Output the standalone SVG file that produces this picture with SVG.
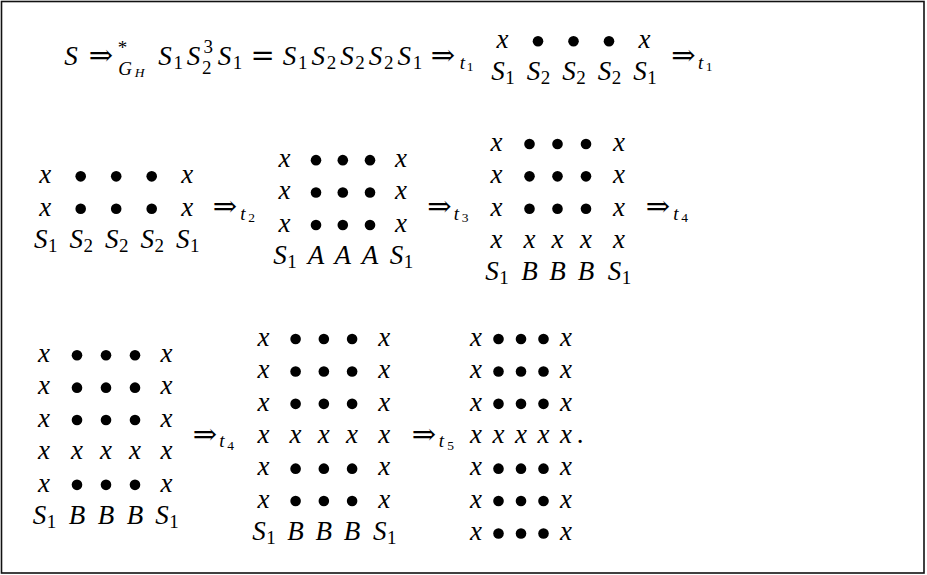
<svg xmlns="http://www.w3.org/2000/svg" width="927" height="575" viewBox="0 0 927 575">
<style>
text{text-anchor:middle;fill:#000;font-family:'Liberation Serif','Times New Roman',serif}
.v{font-style:italic;font-size:27px}
.d{font-size:19px}
.vs{font-style:italic;font-size:19px}
.vss{font-style:italic;font-size:13.5px}
.dss{font-size:13.5px}
.op{font-family:'DejaVu Serif','Liberation Serif',serif;font-size:29px}
.p{font-size:27px}
circle{fill:#000}
</style>
<rect x="0" y="0" width="927" height="575" fill="#fff"/>
<rect x="1.5" y="1.5" width="922.5" height="571.5" fill="none" stroke="#111" stroke-width="1.6"/>

<g id="line1">
<text class="v" x="71" y="64.5">S</text>
<text class="op" x="101" y="65">⇒</text>
<text class="d" x="122.5" y="53.5">*</text>
<text class="vs" x="125" y="75">G</text>
<text class="vss" x="139.5" y="77">H</text>
<text class="v" x="165" y="64.5">S</text><text class="d" x="178.2" y="68.5">1</text>
<text class="v" x="193.6" y="64.5">S</text><text class="d" x="206.8" y="73.5">2</text><text class="d" x="208.3" y="52.5">3</text>
<text class="v" x="224.4" y="64.5">S</text><text class="d" x="237.6" y="68.5">1</text>
<text class="op" x="262.7" y="65">=</text>
<text class="v" x="289.5" y="64.5">S</text><text class="d" x="302.7" y="68.5">1</text>
<text class="v" x="318.2" y="64.5">S</text><text class="d" x="331.4" y="68.5">2</text>
<text class="v" x="346.9" y="64.5">S</text><text class="d" x="360.1" y="68.5">2</text>
<text class="v" x="375.5" y="64.5">S</text><text class="d" x="388.7" y="68.5">2</text>
<text class="v" x="404.2" y="64.5">S</text><text class="d" x="417.4" y="68.5">1</text>
<text class="op" x="443" y="65">⇒</text>
<text class="vs" x="462.3" y="68.5">t</text><text class="dss" x="470" y="71">1</text>
</g>

<g id="array1">
<text class="v" x="502.5" y="48.05">x</text>
<circle cx="538" cy="41.3" r="5.3"/><circle cx="573.5" cy="41.3" r="5.3"/><circle cx="609" cy="41.3" r="5.3"/>
<text class="v" x="644.5" y="48.05">x</text>
<text class="v" x="498" y="80.45">S</text><text class="d" x="510" y="84.45">1</text>
<text class="v" x="533.5" y="80.45">S</text><text class="d" x="545.5" y="84.45">2</text>
<text class="v" x="569" y="80.45">S</text><text class="d" x="581" y="84.45">2</text>
<text class="v" x="604.5" y="80.45">S</text><text class="d" x="616.5" y="84.45">2</text>
<text class="v" x="640" y="80.45">S</text><text class="d" x="652" y="84.45">1</text>
</g>

<g id="step1">
<text class="op" x="683.3" y="65">⇒</text>
<text class="vs" x="700.6" y="68.5">t</text><text class="dss" x="709" y="71">1</text>
</g>

<g id="array2">
<text class="v" x="45.2" y="183.1">x</text>
<circle cx="80.7" cy="176.35" r="5.3"/><circle cx="116.2" cy="176.35" r="5.3"/><circle cx="151.7" cy="176.35" r="5.3"/>
<text class="v" x="187.2" y="183.1">x</text>
<text class="v" x="45.2" y="215.5">x</text>
<circle cx="80.7" cy="208.75" r="5.3"/><circle cx="116.2" cy="208.75" r="5.3"/><circle cx="151.7" cy="208.75" r="5.3"/>
<text class="v" x="187.2" y="215.5">x</text>
<text class="v" x="40.7" y="247.9">S</text><text class="d" x="52.7" y="251.9">1</text>
<text class="v" x="76.2" y="247.9">S</text><text class="d" x="88.2" y="251.9">2</text>
<text class="v" x="111.7" y="247.9">S</text><text class="d" x="123.7" y="251.9">2</text>
<text class="v" x="147.2" y="247.9">S</text><text class="d" x="159.2" y="251.9">2</text>
<text class="v" x="182.7" y="247.9">S</text><text class="d" x="194.7" y="251.9">1</text>
</g>

<g id="step2">
<text class="op" x="225" y="216.25">⇒</text>
<text class="vs" x="243" y="219.75">t</text><text class="dss" x="251.5" y="222">2</text>
</g>

<g id="array3">
<text class="v" x="284.5" y="166.9">x</text>
<circle cx="316" cy="160.15" r="5.3"/><circle cx="342.8" cy="160.15" r="5.3"/><circle cx="370" cy="160.15" r="5.3"/>
<text class="v" x="401" y="166.9">x</text>
<text class="v" x="284.5" y="199.3">x</text>
<circle cx="316" cy="192.55" r="5.3"/><circle cx="342.8" cy="192.55" r="5.3"/><circle cx="370" cy="192.55" r="5.3"/>
<text class="v" x="401" y="199.3">x</text>
<text class="v" x="284.5" y="231.7">x</text>
<circle cx="316" cy="224.95" r="5.3"/><circle cx="342.8" cy="224.95" r="5.3"/><circle cx="370" cy="224.95" r="5.3"/>
<text class="v" x="401" y="231.7">x</text>
<text class="v" x="280" y="264.1">S</text><text class="d" x="292" y="268.1">1</text>
<text class="v" x="316" y="264.1">A</text>
<text class="v" x="342.8" y="264.1">A</text>
<text class="v" x="370" y="264.1">A</text>
<text class="v" x="396.5" y="264.1">S</text><text class="d" x="408.5" y="268.1">1</text>
</g>

<g id="step3">
<text class="op" x="439.5" y="216.25">⇒</text>
<text class="vs" x="456.5" y="219.75">t</text><text class="dss" x="465" y="222">3</text>
</g>

<g id="array4">
<text class="v" x="496.5" y="150.7">x</text>
<circle cx="529.5" cy="143.95" r="5.3"/><circle cx="557.5" cy="143.95" r="5.3"/><circle cx="586" cy="143.95" r="5.3"/>
<text class="v" x="619" y="150.7">x</text>
<text class="v" x="496.5" y="183.1">x</text>
<circle cx="529.5" cy="176.35" r="5.3"/><circle cx="557.5" cy="176.35" r="5.3"/><circle cx="586" cy="176.35" r="5.3"/>
<text class="v" x="619" y="183.1">x</text>
<text class="v" x="496.5" y="215.5">x</text>
<circle cx="529.5" cy="208.75" r="5.3"/><circle cx="557.5" cy="208.75" r="5.3"/><circle cx="586" cy="208.75" r="5.3"/>
<text class="v" x="619" y="215.5">x</text>
<text class="v" x="496.5" y="247.9">x</text>
<text class="v" x="529.5" y="247.9">x</text>
<text class="v" x="557.5" y="247.9">x</text>
<text class="v" x="586" y="247.9">x</text>
<text class="v" x="619" y="247.9">x</text>
<text class="v" x="492" y="280.3">S</text><text class="d" x="504" y="284.3">1</text>
<text class="v" x="529.5" y="280.3">B</text>
<text class="v" x="557.5" y="280.3">B</text>
<text class="v" x="586" y="280.3">B</text>
<text class="v" x="614.5" y="280.3">S</text><text class="d" x="626.5" y="284.3">1</text>
</g>

<g id="step4">
<text class="op" x="658" y="216.25">⇒</text>
<text class="vs" x="676" y="219.75">t</text><text class="dss" x="684.5" y="222">4</text>
</g>

<g id="array5">
<text class="v" x="44" y="362">x</text>
<circle cx="77" cy="355.25" r="5.3"/><circle cx="106" cy="355.25" r="5.3"/><circle cx="135" cy="355.25" r="5.3"/>
<text class="v" x="166.5" y="362">x</text>
<text class="v" x="44" y="394.4">x</text>
<circle cx="77" cy="387.65" r="5.3"/><circle cx="106" cy="387.65" r="5.3"/><circle cx="135" cy="387.65" r="5.3"/>
<text class="v" x="166.5" y="394.4">x</text>
<text class="v" x="44" y="426.8">x</text>
<circle cx="77" cy="420.05" r="5.3"/><circle cx="106" cy="420.05" r="5.3"/><circle cx="135" cy="420.05" r="5.3"/>
<text class="v" x="166.5" y="426.8">x</text>
<text class="v" x="44" y="459.2">x</text>
<text class="v" x="77" y="459.2">x</text>
<text class="v" x="106" y="459.2">x</text>
<text class="v" x="135" y="459.2">x</text>
<text class="v" x="166.5" y="459.2">x</text>
<text class="v" x="44" y="491.6">x</text>
<circle cx="77" cy="484.85" r="5.3"/><circle cx="106" cy="484.85" r="5.3"/><circle cx="135" cy="484.85" r="5.3"/>
<text class="v" x="166.5" y="491.6">x</text>
<text class="v" x="39.5" y="524">S</text><text class="d" x="51.5" y="528">1</text>
<text class="v" x="77" y="524">B</text>
<text class="v" x="106" y="524">B</text>
<text class="v" x="135" y="524">B</text>
<text class="v" x="162" y="524">S</text><text class="d" x="174" y="528">1</text>
</g>

<g id="step5">
<text class="op" x="205" y="443.75">⇒</text>
<text class="vs" x="222" y="447.25">t</text><text class="dss" x="230.5" y="449.5">4</text>
</g>

<g id="array6">
<text class="v" x="263.5" y="345.8">x</text>
<circle cx="295.6" cy="339.05" r="5.3"/><circle cx="323.85" cy="339.05" r="5.3"/><circle cx="352.1" cy="339.05" r="5.3"/>
<text class="v" x="384.2" y="345.8">x</text>
<text class="v" x="263.5" y="378.2">x</text>
<circle cx="295.6" cy="371.45" r="5.3"/><circle cx="323.85" cy="371.45" r="5.3"/><circle cx="352.1" cy="371.45" r="5.3"/>
<text class="v" x="384.2" y="378.2">x</text>
<text class="v" x="263.5" y="410.6">x</text>
<circle cx="295.6" cy="403.85" r="5.3"/><circle cx="323.85" cy="403.85" r="5.3"/><circle cx="352.1" cy="403.85" r="5.3"/>
<text class="v" x="384.2" y="410.6">x</text>
<text class="v" x="263.5" y="443">x</text>
<text class="v" x="295.6" y="443">x</text>
<text class="v" x="323.85" y="443">x</text>
<text class="v" x="352.1" y="443">x</text>
<text class="v" x="384.2" y="443">x</text>
<text class="v" x="263.5" y="475.4">x</text>
<circle cx="295.6" cy="468.65" r="5.3"/><circle cx="323.85" cy="468.65" r="5.3"/><circle cx="352.1" cy="468.65" r="5.3"/>
<text class="v" x="384.2" y="475.4">x</text>
<text class="v" x="263.5" y="507.8">x</text>
<circle cx="295.6" cy="501.05" r="5.3"/><circle cx="323.85" cy="501.05" r="5.3"/><circle cx="352.1" cy="501.05" r="5.3"/>
<text class="v" x="384.2" y="507.8">x</text>
<text class="v" x="259" y="540.2">S</text><text class="d" x="271" y="544.2">1</text>
<text class="v" x="295.6" y="540.2">B</text>
<text class="v" x="323.85" y="540.2">B</text>
<text class="v" x="352.1" y="540.2">B</text>
<text class="v" x="379.7" y="540.2">S</text><text class="d" x="391.7" y="544.2">1</text>
</g>

<g id="step6">
<text class="op" x="424" y="443.75">⇒</text>
<text class="vs" x="441.5" y="447.25">t</text><text class="dss" x="450.5" y="449.5">5</text>
</g>

<g id="array7">
<text class="v" x="476" y="345.8">x</text>
<circle cx="498.5" cy="339.05" r="5.3"/><circle cx="521" cy="339.05" r="5.3"/><circle cx="543.5" cy="339.05" r="5.3"/>
<text class="v" x="566" y="345.8">x</text>
<text class="v" x="476" y="378.2">x</text>
<circle cx="498.5" cy="371.45" r="5.3"/><circle cx="521" cy="371.45" r="5.3"/><circle cx="543.5" cy="371.45" r="5.3"/>
<text class="v" x="566" y="378.2">x</text>
<text class="v" x="476" y="410.6">x</text>
<circle cx="498.5" cy="403.85" r="5.3"/><circle cx="521" cy="403.85" r="5.3"/><circle cx="543.5" cy="403.85" r="5.3"/>
<text class="v" x="566" y="410.6">x</text>
<text class="v" x="476" y="443">x</text>
<text class="v" x="498.5" y="443">x</text>
<text class="v" x="521" y="443">x</text>
<text class="v" x="543.5" y="443">x</text>
<text class="v" x="566" y="443">x</text>
<text class="p" x="580" y="443">.</text>
<text class="v" x="476" y="475.4">x</text>
<circle cx="498.5" cy="468.65" r="5.3"/><circle cx="521" cy="468.65" r="5.3"/><circle cx="543.5" cy="468.65" r="5.3"/>
<text class="v" x="566" y="475.4">x</text>
<text class="v" x="476" y="507.8">x</text>
<circle cx="498.5" cy="501.05" r="5.3"/><circle cx="521" cy="501.05" r="5.3"/><circle cx="543.5" cy="501.05" r="5.3"/>
<text class="v" x="566" y="507.8">x</text>
<text class="v" x="476" y="540.2">x</text>
<circle cx="498.5" cy="533.45" r="5.3"/><circle cx="521" cy="533.45" r="5.3"/><circle cx="543.5" cy="533.45" r="5.3"/>
<text class="v" x="566" y="540.2">x</text>
</g>
</svg>
